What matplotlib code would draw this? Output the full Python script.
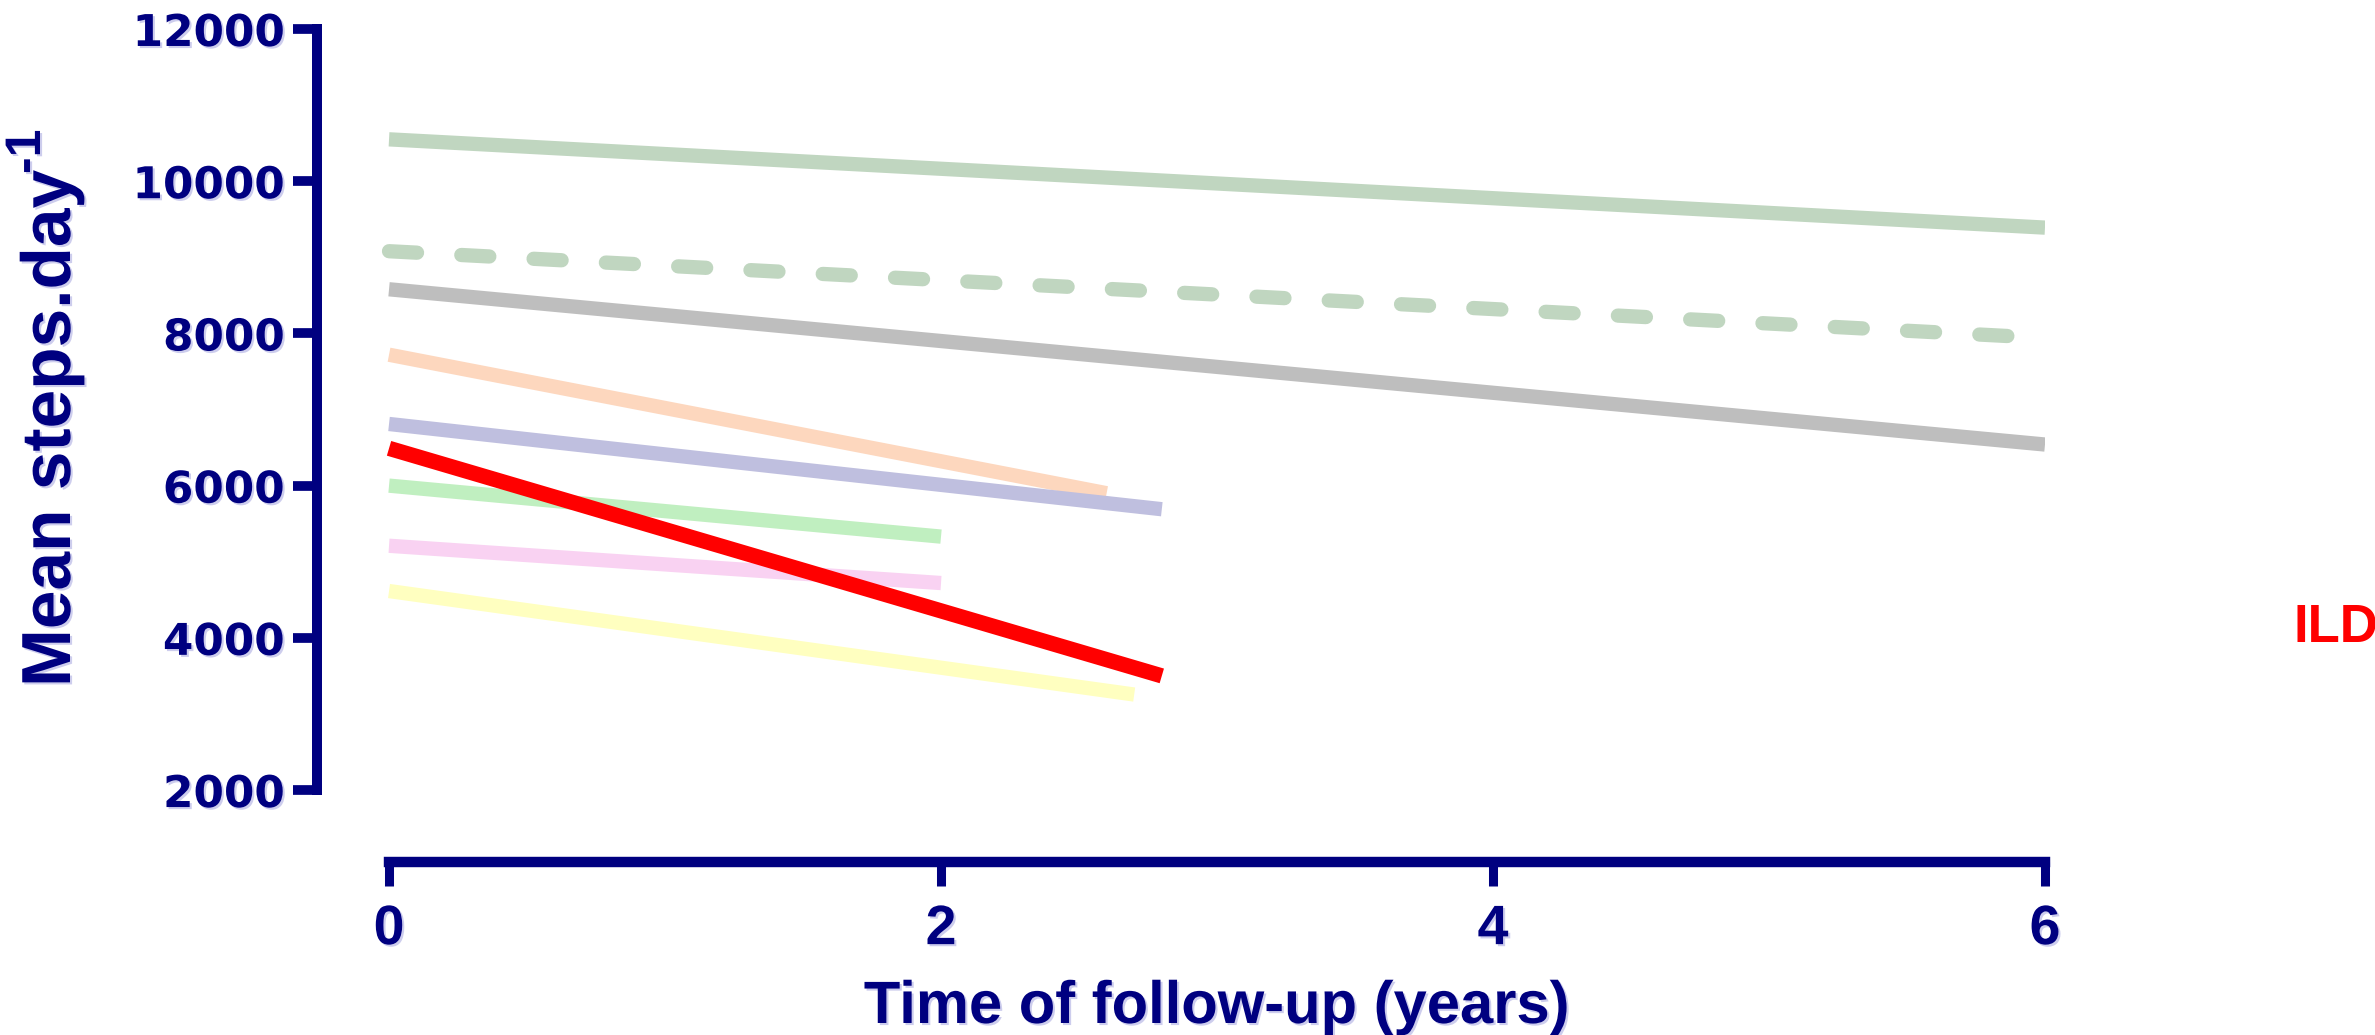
import matplotlib
matplotlib.use("Agg")
import matplotlib.pyplot as plt
import matplotlib.patheffects as pe

# step counts per cohort, start and end of follow-up
years_long = [0, 6]
healthy_a = [10550, 9390]
healthy_b = [9080, 7940]
older = [8580, 6540]

years_orange = [0, 2.6]
cohort_orange = [7720, 5900]

years_ild = [0, 2.8]
cohort_lavender = [6810, 5690]
ild = [6490, 3500]

years_short = [0, 2.0]
cohort_green = [6000, 5330]
cohort_pink = [5210, 4720]

years_yellow = [0, 2.7]
cohort_yellow = [4615, 3255]

xticks = [0, 2, 4, 6]
yticks = [2000, 4000, 6000, 8000, 10000, 12000]

navy = "#000080"
# faint lavender edge on the navy lettering
halo = [pe.SimplePatchShadow(offset=(1.5, -1.5), shadow_rgbFace="#b8b8e6", alpha=0.7),
        pe.Normal()]

W, H = 2375, 1035
fig = plt.figure(figsize=(W / 100, H / 100), dpi=100)
ax = fig.add_axes([0.13347, 0.1671, 0.72758, 0.8049])

lw = 10.3
ax.plot(years_long, healthy_a, color="#C0D6C0", lw=lw, solid_capstyle="butt")
ax.plot(years_long, healthy_b, color="#C0D6C0", lw=lw,
        ls=(0, (1.96, 3.10)), dash_capstyle="round")
ax.plot(years_long, older, color="#BEBEBE", lw=lw, solid_capstyle="butt")
ax.plot(years_orange, cohort_orange, color="#FDD7BE", lw=lw, solid_capstyle="butt")
ax.plot(years_ild, cohort_lavender, color="#BFBFDF", lw=lw, solid_capstyle="butt")
ax.plot(years_short, cohort_green, color="#C0EFC0", lw=lw, solid_capstyle="butt")
ax.plot(years_short, cohort_pink, color="#F9D2F2", lw=lw, solid_capstyle="butt")
ax.plot(years_yellow, cohort_yellow, color="#FFFFC0", lw=lw, solid_capstyle="butt")
ax.plot(years_ild, ild, color="#FF0000", lw=11, solid_capstyle="butt", zorder=5)

ax.set_xlim(-0.261, 6)
ax.set_ylim(1054, 12000)

for side in ["top", "right"]:
    ax.spines[side].set_visible(False)
ax.spines["left"].set_bounds(2000, 12000)
ax.spines["bottom"].set_bounds(0, 6)
ax.spines["left"].set_linewidth(7.2)
ax.spines["bottom"].set_linewidth(7.5)
for side in ["left", "bottom"]:
    ax.spines[side].set_color(navy)
    ax.spines[side].set_capstyle("projecting")

ax.set_xticks(xticks)
ax.set_yticks(yticks)
ax.set_xticklabels([str(t) for t in xticks], fontfamily="Liberation Sans",
                   fontweight="bold", fontsize=40, color=navy, path_effects=halo)
ax.set_yticklabels([str(t) for t in yticks], fontfamily="DejaVu Sans",
                   fontweight="bold", fontsize=31.5, color=navy, path_effects=halo)
ax.tick_params(axis="y", length=17.3, width=7, color=navy, pad=5.8)
ax.tick_params(axis="x", length=17.3, width=6.5, color=navy, pad=13)

# y label, anchored at its baseline, with a raised "-1" after it
lab_font = dict(fontfamily="Liberation Sans", fontweight="bold", color=navy,
                rotation=90, rotation_mode="anchor", ha="left", va="baseline",
                path_effects=halo)
fig.text(70 / W, 1 - 687 / H, "Mean steps.day", fontsize=50, **lab_font)
fig.text(40 / W, 1 - 174 / H, "-1", fontsize=36, **lab_font)

fig.text(0.5124, 0.0116, "Time of follow-up (years)", ha="center",
         va="baseline", fontfamily="Liberation Sans", fontweight="bold",
         fontsize=43, color=navy, path_effects=halo)
fig.text(0.9655, 0.393, "ILD", ha="left", va="center",
         fontfamily="Liberation Sans", fontweight="bold", fontsize=38,
         color="#FF0000")

fig.savefig("out.png", dpi=100)
